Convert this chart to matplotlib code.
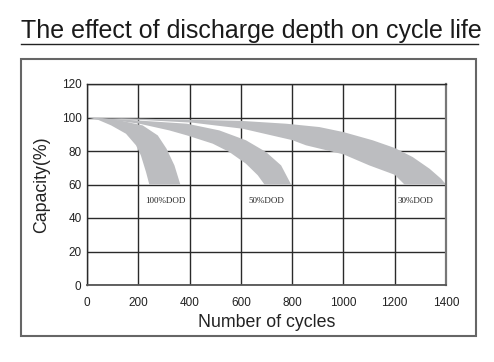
import matplotlib
matplotlib.use('Agg')
import matplotlib.pyplot as plt
from matplotlib.patches import Rectangle
from matplotlib.lines import Line2D

# band edges (cycles, capacity %)
dod100_upper_x = [0, 60, 126, 217, 276, 310, 341, 364]
dod100_upper_y = [100, 99.6, 98.3, 95.3, 89.3, 81.4, 71.4, 60]
dod100_lower_x = [0, 45, 94, 152, 191, 210, 230, 243]
dod100_lower_y = [100, 98.5, 95.3, 90.3, 83.4, 77.4, 67.5, 60]

dod50_upper_x = [0, 191, 390, 516, 620, 698, 757, 796]
dod50_upper_y = [100, 98.3, 96.3, 92.3, 86.4, 79.4, 71.4, 60]
dod50_lower_x = [0, 100, 204, 321, 390, 490, 555, 620, 666, 692]
dod50_lower_y = [100, 98.5, 96.3, 92.3, 89.3, 84.4, 79.4, 72.4, 65.5, 60]

dod30_upper_x = [0, 300, 600, 776, 906, 1000, 1114, 1200, 1270, 1336, 1381, 1400]
dod30_upper_y = [100, 99, 98, 96.3, 94.3, 91.3, 86.4, 81.8, 76.4, 69.4, 63.4, 60]
dod30_lower_x = [0, 165, 412, 607, 800, 854, 1000, 1101, 1200, 1238]
dod30_lower_y = [100, 98.9, 96.9, 93.3, 86.5, 83.4, 78, 71.4, 65.8, 60]

labels = ['100%DOD', '50%DOD', '30%DOD']
label_x = [304, 701, 1279]
label_y = [50, 50, 50]

x_ticks = [0, 200, 400, 600, 800, 1000, 1200, 1400]
y_ticks = [0, 20, 40, 60, 80, 100, 120]

W, H = 494, 362
fig = plt.figure(figsize=(W / 100, H / 100), dpi=100)
plt.rcParams['font.family'] = ['Liberation Sans', 'DejaVu Sans']

def fx(px):
    return px / W

def fy(py):
    return 1 - py / H

ax = fig.add_axes([fx(87), fy(285), (446 - 87) / W, (285 - 84) / H])

band_col = '#bcbdc0'
bands = [(dod100_upper_x, dod100_upper_y, dod100_lower_x, dod100_lower_y),
         (dod50_upper_x, dod50_upper_y, dod50_lower_x, dod50_lower_y),
         (dod30_upper_x, dod30_upper_y, dod30_lower_x, dod30_lower_y)]
for ux, uy, lx, ly in bands:
    px = list(ux) + list(lx[::-1])
    py = list(uy) + list(ly[::-1])
    ax.fill(px, py, color=band_col, lw=0, zorder=2)

for lab, x, y in zip(labels, label_x, label_y):
    ax.text(x, y, lab, ha='center', va='center', fontsize=6.5,
            family='Liberation Serif', color='#222222', zorder=3)

ax.set_xlim(0, 1400)
ax.set_ylim(0, 120)
ax.set_xticks(x_ticks)
ax.set_yticks(y_ticks)
ax.grid(True, color='#2a2a2a', lw=1.0, zorder=1)
ax.set_axisbelow(True)
ax.tick_params(length=0, labelsize=8.5, colors='#222222')
ax.tick_params(axis='x', pad=9)
ax.tick_params(axis='y', pad=4)
for s in ['left', 'top']:
    ax.spines[s].set_color('#2a2a2a')
    ax.spines[s].set_linewidth(1.0)
ax.spines['bottom'].set_color('#555555')
ax.spines['bottom'].set_linewidth(1.3)
ax.spines['right'].set_color('#777777')
ax.spines['right'].set_linewidth(1.6)

ax.set_xlabel('Number of cycles', fontsize=12.8, color='#222222', labelpad=3)
ax.set_ylabel('Capacity(%)', fontsize=12.8, color='#222222', labelpad=8)

# outer frame
fig.patches.append(Rectangle((fx(21), fy(336)), (476 - 21) / W, (336 - 59) / H,
                             transform=fig.transFigure, fill=False,
                             edgecolor='#666666', lw=1.5))

# title and underline
fig.text(fx(21), fy(38), 'The effect of discharge depth on cycle life',
         fontsize=18, color='#1a1a1a', ha='left', va='baseline')
fig.lines.append(Line2D([fx(21), fx(478)], [fy(44), fy(44)],
                        transform=fig.transFigure, color='#222222', lw=1.0))

fig.savefig('out.png', dpi=100)
